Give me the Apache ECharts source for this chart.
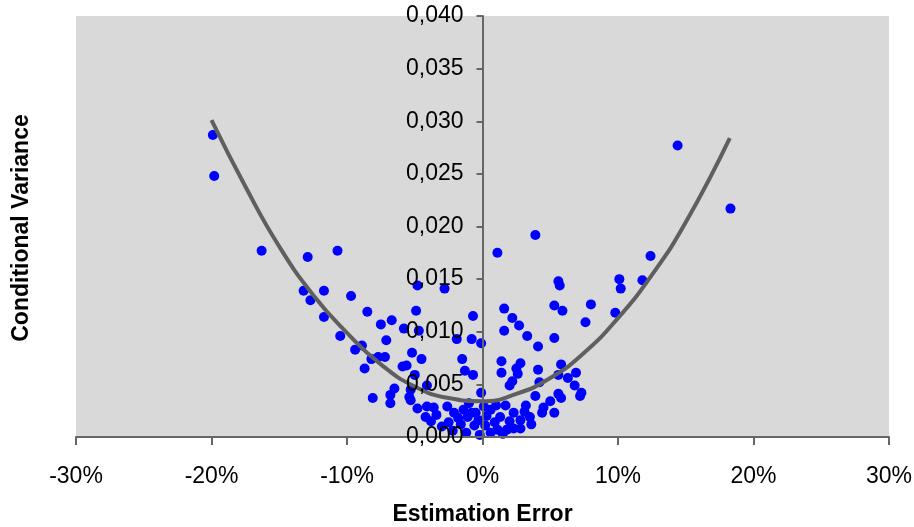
<!DOCTYPE html>
<html>
<head>
<meta charset="utf-8">
<script src="https://cdn.jsdelivr.net/npm/echarts@6/dist/echarts.min.js"></script>
<style>
  html, body { margin: 0; padding: 0; background: #fff; }
  #chart { width: 914px; height: 527px; }
</style>
</head>
<body>
<div id="chart"></div>
<script>
// estimation error (%) vs conditional variance
const errPct = [
  -19.9, -19.8, -16.3, -12.9, -10.7, -13.2, -11.7, -9.7, -12.7, -11.7, -10.5,
  -4.8, -2.8, -8.5, -4.9, -0.7, -7.5, -6.7, -5.8, -4.7, -7.1, -8.9, -9.4,
  -1.9, -0.8, -0.1, -5.2, -4.5, -7.2, -7.7, -8.2, -8.7, -5.9, -5.6, -1.5,
  -1.3, -0.7, -5.0, -4.1, -6.5, -6.8, -8.1, -6.8, -5.4, -5.3, -0.1,
  3.9, 1.1, 5.6, 5.7, 1.6, 5.3, 5.9, 8.0, 2.2, 2.7, 1.6, 7.6, 9.8, 3.3, 5.3,
  4.1, 1.4, 2.8, 2.5, 1.4, 2.6, 4.1, 5.8, 2.2, 2.0, 4.2, 5.6, 6.3, 6.9, 6.8,
  7.3, 7.2, 5.6, 5.8, 5.3, 5.0, 4.4, 3.9, 14.4, 18.3, 12.4, 10.1, 10.2, 11.8,
  -5.3, -4.8, -4.1, -3.6, -3.4, -4.2, -3.8, -2.6, -2.1, -1.4, -1.1, -1.0, -0.8,
  1.7, 3.2, -0.5, 0.6, 1.3, 2.3, 2.8, 3.5, -0.6, 0.2, 1.1, 1.8, 2.3, 2.8,
  -0.2, 0.6, -3.0, -2.2, -1.6, -1.2, -0.3, 0.3, 0.9, 1.5, 2.0, 3.1, 3.6,
  -1.8, 0.1, 1.0, -2.5, 4.5
];
const condVar = [
  0.0287, 0.0248, 0.0177, 0.0171, 0.0177, 0.0139, 0.0139, 0.0134, 0.0130, 0.0114, 0.0096,
  0.0144, 0.0141, 0.0119, 0.0120, 0.0115, 0.0107, 0.0111, 0.0103, 0.0101, 0.0092, 0.0087, 0.0083,
  0.0093, 0.0093, 0.0089, 0.0080, 0.0074, 0.0076, 0.0076, 0.0074, 0.0065, 0.0067, 0.0068, 0.0074,
  0.0063, 0.0059, 0.0059, 0.0049, 0.0046, 0.0040, 0.0037, 0.0032, 0.0038, 0.0045, 0.0042,
  0.0192, 0.0175, 0.0148, 0.0144, 0.0122, 0.0125, 0.0120, 0.0126, 0.0113, 0.0106, 0.0101, 0.0109, 0.0118, 0.0096, 0.0094,
  0.0086, 0.0072, 0.0070, 0.0065, 0.0061, 0.0060, 0.0064, 0.0069, 0.0053, 0.0049, 0.0052, 0.0059, 0.0056, 0.0061, 0.0049,
  0.0042, 0.0039, 0.0041, 0.0037, 0.0023, 0.0034, 0.0023, 0.0039, 0.0277, 0.0217, 0.0172, 0.0150, 0.0141, 0.0149,
  0.0035, 0.0027, 0.0029, 0.0028, 0.0021, 0.0019, 0.0015, 0.0029, 0.0023, 0.0026, 0.0019, 0.0032, 0.0023,
  0.0030, 0.0030, 0.0023, 0.0026, 0.0019, 0.0023, 0.0016, 0.0019, 0.0011, 0.0011, 0.0007, 0.0007, 0.0008, 0.0008,
  0.0002, 0.0004, 0.0010, 0.0006, 0.0012, 0.0004, 0.0016, 0.0020, 0.0014, 0.0003, 0.0015, 0.0024, 0.0012,
  0.0018, 0.0029, 0.0030, 0.0014, 0.0028
];

// polynomial trendline, points picked along the drawn curve
const trendX = [-20, -17.5, -15, -12.5, -10, -7.5, -5, -2.5, 0, 2.5, 5, 7.5, 10, 12.5, 15, 18.25];
const trendY = [0.0301, 0.0238, 0.0181, 0.0135, 0.0099, 0.0069, 0.0048, 0.0037, 0.0034,
                0.0041, 0.0056, 0.0080, 0.0113, 0.0154, 0.0204, 0.0284];

const font = "Liberation Sans, Arial, sans-serif";
const chart = echarts.init(document.getElementById("chart"));

// y axis sits on x = 0, in the middle of the plot
const gridLeft = 76, gridRight = 25;
const plotW = 914 - gridLeft - gridRight;

chart.setOption({
  animation: false,
  grid: {
    left: gridLeft,
    right: gridRight,
    top: 16,
    bottom: 90,
    outerBoundsMode: "none",
    show: true,
    backgroundColor: "#d9d9d9",
    borderWidth: 0,
  },
  xAxis: {
    type: "value",
    min: -30,
    max: 30,
    interval: 10,
    name: "Estimation Error",
    nameLocation: "middle",
    nameGap: 66,
    nameTextStyle: { fontFamily: font, fontSize: 23, fontWeight: "bold", color: "#000" },
    splitLine: { show: false },
    axisLine: { lineStyle: { color: "#666", width: 2 } },
    axisTick: { length: 8, lineStyle: { color: "#666", width: 2 } },
    axisLabel: {
      margin: 28,
      fontFamily: font,
      fontSize: 23,
      color: "#000",
      formatter: (v) => v + "%",
    },
    z: 5,
  },
  yAxis: {
    type: "value",
    min: 0,
    max: 0.04,
    interval: 0.005,
    offset: -plotW / 2,
    splitLine: { show: false },
    axisLine: { onZero: false, lineStyle: { color: "#666", width: 2 } },
    axisTick: { length: 6, lineStyle: { color: "#666", width: 2 } },
    axisLabel: {
      margin: 19,
      fontFamily: font,
      fontSize: 23,
      color: "#000",
      formatter: (v) => v.toFixed(3).replace(".", ","),
    },
    z: 5,
  },
  graphic: [
    {
      type: "text",
      x: 22,
      y: 228,
      rotation: Math.PI / 2,
      style: {
        text: "Conditional Variance",
        fontFamily: font,
        fontSize: 23,
        fontWeight: "bold",
        fill: "#000",
        align: "center",
        verticalAlign: "middle",
      },
    },
  ],
  series: [
    {
      type: "scatter",
      symbol: "circle",
      symbolSize: 10,
      itemStyle: { color: "#0000ff", opacity: 1 },
      data: errPct.map((x, i) => [x, condVar[i]]),
      z: 2,
    },
    {
      type: "line",
      smooth: true,
      symbol: "none",
      lineStyle: { color: "#5f5f5f", width: 4 },
      data: trendX.map((x, i) => [x, trendY[i]]),
      z: 3,
    },
  ],
});
</script>
</body>
</html>
